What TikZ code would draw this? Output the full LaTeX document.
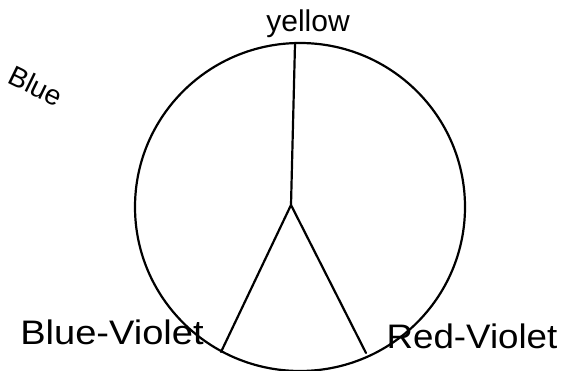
\documentclass[tikz,border=0pt]{standalone}
\usepackage{fontspec}
\setmainfont{Liberation Sans}
\begin{document}
\begin{tikzpicture}[x=1pt,y=-1pt,
  ink/.style={line width=2.2pt,black,line cap=round,line join=round},
  hand/.style={font=\fontsize{34}{36}\selectfont,inner sep=0pt}]
\useasboundingbox (0,0) rectangle (580,371);
\fill[white] (0,0) rectangle (580,371);
\draw[ink] (300,207) ellipse [x radius=165, y radius=164];
\coordinate (top) at (295,44);
\coordinate (j) at (291,205);
\coordinate (bl) at (221,352);
\coordinate (br) at (366,353);
\draw[ink] (top) -- (j) -- (bl);
\draw[ink] (j) -- (br);
\node[hand,font=\fontsize{30}{32}\selectfont] (yellow) at (308,24) {yellow};
\node[hand,font=\fontsize{28}{30}\selectfont,rotate=-26] (blue) at (36,86) {Blue};
\node[hand,xscale=1.12] (bv) at (112,332) {Blue-Violet};
\node[hand,xscale=1.08] (rv) at (472,336) {Red-Violet};
\end{tikzpicture}
\end{document}
